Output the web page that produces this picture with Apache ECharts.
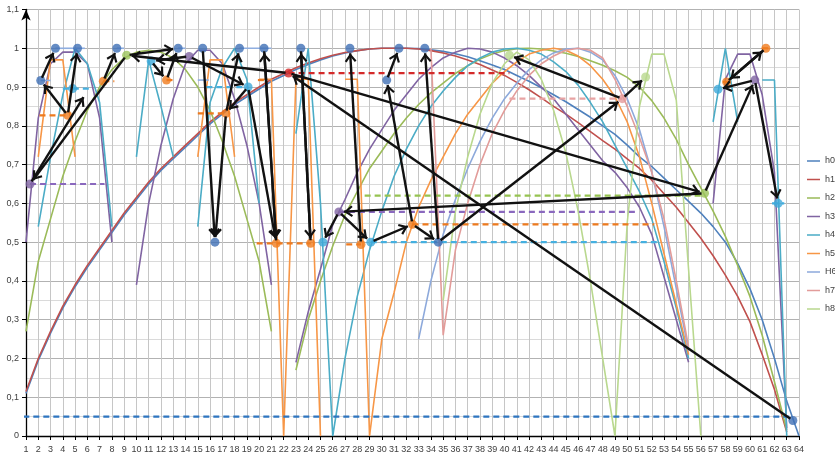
<!DOCTYPE html>
<html>
<head>
<meta charset="utf-8">
<script src="https://cdn.jsdelivr.net/npm/echarts@6/dist/echarts.min.js"></script>
<style>
html,body{margin:0;padding:0;background:#fff;}
#chart{width:835px;height:460px;}
</style>
</head>
<body>
<div id="chart"></div>
<script>
// ---- axis tick labels ----
const xLabels = ['1','2','3','4','5','6','7','8','9','10','11','12','13','14','15','16','17','18','19','20',
  '21','22','23','24','25','26','27','28','29','30','31','32','33','34','35','36','37','38','39','40',
  '41','42','43','44','45','46','47','48','49','50','51','52','53','54','55','56','57','58','59','60',
  '61','62','63','64'];
const yLabels = ['0','0,1','0,2','0,3','0,4','0,5','0,6','0,7','0,8','0,9','1','1,1'];
const seriesNames = ['h0','h1','h2','h3','h4','h5','H6','h7','h8'];

// ---- curve values (each part starts at the given position) ----
const h0 = [.11,.195,.265,.33,.385,.435,.48,.525,.57,.61,.65,.685,.715,.745,.775,.805,.83,.855,.875,.895,
  .915,.93,.945,.958,.97,.98,.988,.994,.998,1,1,1,.999,.996,.992,.986,.978,.968,.957,
  .945,.93,.915,.898,.88,.862,.842,.822,.8,.778,.75,
  .72,.695,.665,.635,.605,.575,.54,.5,.445,.38,.3,.2,.09,0];
const h1 = [.115,.2,.27,.335,.39,.44,.485,.53,.575,.615,.655,.69,.72,.75,.78,.81,.835,.86,.88,.9,
  .92,.935,.95,.962,.973,.982,.989,.994,.998,1,1,1,.998,.994,.988,.98,.97,.958,.944,
  .93,.912,.893,.872,.85,.83,.808,.785,.762,.74,.715,
  .69,.66,.625,.59,.55,.51,.465,.415,.36,.295,.21,.12,.01];
const h2a = [.27,.45,.56,.67,.76,.84,.9,.945,.975,.99,.995,.99,.975,.945,.9,.84,.76,.67,.56,.45,.27];
const h2b = [.17,.3,.4,.49,.57,.63,.69,.735,.78,.82,.855,.885,.91,.935,.955,.972,.985,.994,.999,1,
  .998,.993,.987,.979,.968,.956,.942,.925,.9,.865,.82,.765,.7,.64,.58,.515,.44,.36,.26,.14,.015];
const h3a = [.5,.82,.96,.99,.99,.96,.82,.5];
const h3b = [.39,.6,.75,.87,.96,.995,.995,.96,.87,.75,.6,.39];
const h3c = [.19,.32,.43,.545,.61,.68,.74,.79,.84,.88,.92,.95,.975,.99,1,.998,.99,.975,.955,.93,
  .9,.87,.83,.79,.75,.71,.68,.64,.59,.52,.41,.3,.19];
const h3d = [.6,.92,.985,.985,.88,.68,.02];
const h4a = [.54,.72,.88,1,.96,.86,.54];
const h4b = [.72,.97,.85,.72];
const h4c = [.54,.86,.95,1,.92,.6];
const h4d = [.78,1,.6,0,.2,.36,.48,.58,.67,.74,.8,.85,.89,.925,.955,.975,.99,.998,1,.995,
  .985,.965,.94,.905,.86,.81,.75,.69,.63,.56,.45,.33,.2];
const h4e = [.81,1,.81];
const h4f = [.918,.918,0];
const h5a = [.72,.97,.97,.72];
const h5b = [.72,.97,.97,.72];
const h5c = [.92,.92,0,.92,.92,0];
const h5d = [.92,.92,0,.25,.37,.5,.59,.66,.72,.78,.83,.87,.91,.94,.965,.985,.995,1,.995,.98,
  .955,.92,.875,.81,.72,.6,.47,.34,.21];
const h6a = [.25,.4,.52,.61,.69,.76,.82,.87,.91,.945,.97,.988,.998,1,.99,.97,.93,.87,.79,.68,.54,.38,.22];
const h7a = [1,.26,.48,.6,.7,.78,.84,.89,.93,.96,.98,.995,1,.995,.975,.92,.85,.77,.68,.56,.4,.23];
const h8a = [.35,.58,.72,.83,.91,.96,.99,.97,.92,.84,.73,.58,.4,.2,0,.55,.85,.985,.985,.866,.43,0];

const curveParts = {
  h0: [[1, h0]],
  h1: [[1, h1]],
  h2: [[1, h2a], [23, h2b]],
  h3: [[1, h3a], [10, h3b], [23, h3c], [57, h3d]],
  h4: [[2, h4a], [10, h4b], [15, h4c], [23, h4d], [57, h4e], [61, h4f]],
  h5: [[2, h5a], [15, h5b], [20, h5c], [27, h5d]],
  H6: [[33, h6a]],
  h7: [[34, h7a]],
  h8: [[35, h8a]]
};

// ---- visited points ----
const ptsBlue = [[2.2,.917],[3.4,1],[5.2,1],[8.4,1],[13.4,1],[15.4,1],[16.4,.5],[18.4,1],[20.4,1],
  [23.4,1],[27.4,1],[30.4,.918],[31.4,1],[33.5,1],[34.6,.5],[63.5,.04]];
const ptsRed = [[22.4,.936]];
const ptsGreen = [[9.2,.982],[56.3,.626]];
const ptsPurple = [[1.33,.65],[14.3,.979],[26.5,.578],[60.4,.918]];
const ptsTeal = [[4.8,.896],[11.2,.967],[19.1,.9],[25.2,.5],[29.1,.5],[57.4,.894],[62.3,.6]];
const ptsOrange = [[4.4,.827],[7.3,.915],[12.45,.918],[17.3,.832],[21.4,.497],[24.2,.497],[28.3,.494],
  [32.5,.546],[58.1,.913],[61.3,1]];
const ptsPink = [[49.6,.87]];
const ptsLightGreen = [[40.4,.982],[51.5,.926]];

// ---- level lines [from, to, value] ----
const lvBlue = [[-0.85,63.4,.05]];
const lvPurple = [[1.33,7.4,.65],[26.5,50.7,.578]];
const lvOrange = [[2.1,4.4,.827],[7.3,8.2,.915],[12.45,13.1,.918],[15.0,17.3,.832],[19.9,20.6,.918],
  [19.8,24.2,.497],[27.1,28.3,.494],[32.5,52.2,.546],[57.8,58.6,.913],[61.0,61.8,1]];
const lvTeal = [[4.0,6.4,.896],[15.7,19.1,.9],[29.1,52.6,.5],[61.8,62.8,.6]];
const lvRed = [[22.4,40.4,.936]];
const lvGreen = [[28.6,56.0,.62]];
const lvPink = [[40.4,49.6,.87]];
const lvPale = [[2.2,3.0,.917],[3.4,5.8,1],[8.4,9.0,1],[13.4,14.0,1],[15.0,15.9,.918],[18.4,21.0,1]];

// ---- moves between points [from, to] ----
const moves = [
  [[9.2,.982],[1.33,.65]], [[1.33,.65],[5.9,.885]], [[4.4,.827],[2.2,.917]], [[2.2,.917],[3.4,1]],
  [[4.4,.827],[5.2,1]], [[7.3,.915],[8.4,1]], [[22.4,.936],[9.2,.982]], [[9.2,.982],[13.4,1]],
  [[14.3,.979],[11.2,.967]], [[11.2,.967],[12.45,.918]], [[12.45,.918],[13.4,1]], [[14.3,.979],[19.1,.9]],
  [[19.1,.9],[17.3,.832]], [[17.3,.832],[18.4,1]], [[15.4,1],[16.4,.5]], [[17.3,.832],[16.4,.5]],
  [[19.1,.9],[21.4,.497]], [[20.4,1],[21.4,.497]], [[21.4,.497],[20.4,1]], [[23.4,1],[24.2,.497]],
  [[24.2,.497],[23.4,1]], [[28.3,.494],[27.4,1]], [[26.5,.578],[25.2,.5]], [[26.5,.578],[29.1,.5]],
  [[56.3,.626],[26.5,.578]], [[29.1,.5],[32.5,.546]], [[32.5,.546],[34.6,.5]], [[32.5,.546],[30.4,.918]],
  [[30.4,.918],[31.4,1]], [[34.6,.5],[33.5,1]], [[34.6,.5],[49.6,.87]], [[49.6,.87],[51.5,.926]],
  [[49.6,.87],[40.4,.982]], [[22.4,.936],[56.3,.626]], [[63.5,.04],[22.4,.936]], [[56.3,.626],[60.4,.918]],
  [[60.4,.918],[57.4,.894]], [[58.1,.913],[61.3,1]], [[61.3,1],[58.1,.913]], [[60.4,.918],[62.3,.6]]
];

// ---- styling ----
const curveColors = {h0:'#4F81BD',h1:'#C0504D',h2:'#9BBB59',h3:'#8064A2',h4:'#4BACC6',h5:'#F79646',
  H6:'#8DA9DB',h7:'#E29C9A',h8:'#B9D88E'};
const font = 'Liberation Sans, Arial, sans-serif';
// open arrow head; the tip sits at the centre of the symbol box
const openArrow = 'path://M0,0L0.01,0L0,0.01Z M20,20L19.99,20L20,19.99Z M10,10L16.5,18.5L14.6,20L10,14L5.4,20L3.5,18.5Z';
// thin horizontal stroke used as legend key
const legendKey = 'path://M0,0L0.01,0L0,0.01Z M13,10L12.99,10L13,9.99Z M0,4.2H13V5.8H0Z';

function partsToData(parts) {
  const out = [];
  parts.forEach(([start, vals], k) => {
    if (k) out.push([start - 0.5, '-']);
    vals.forEach((v, i) => out.push([start + i, v]));
  });
  return out;
}

const chart = echarts.init(document.getElementById('chart'), null, {renderer: 'canvas'});

const series = [];
seriesNames.forEach(n => {
  series.push({
    name: n, type: 'line', data: partsToData(curveParts[n]), symbol: 'none', connectNulls: false,
    lineStyle: {width: 1.6, color: curveColors[n]}, itemStyle: {color: curveColors[n]}, z: 2, silent: true
  });
});

function levelSeries(list, color, dashed, width) {
  list.forEach(([a, b, v]) => {
    series.push({
      type: 'line', data: [[a, v], [b, v]], symbol: 'none', silent: true, clip: false, z: 3,
      lineStyle: {color: color, width: width, type: dashed ? [6, 4] : 'solid'}
    });
  });
}
levelSeries(lvBlue, '#2E75C0', true, 2.4);
levelSeries(lvPurple, '#8A68BE', true, 2.2);
levelSeries(lvOrange, '#EE7A1E', true, 2.2);
levelSeries(lvTeal, '#45B0E0', true, 2.2);
levelSeries(lvRed, '#D42A2A', true, 2.2);
levelSeries(lvGreen, '#96C350', true, 2.2);
levelSeries(lvPink, '#E8A3A3', true, 2.2);
levelSeries(lvPale, '#8FAEE0', false, 1.6);

function dots(list, color) {
  series.push({type: 'scatter', data: list, symbol: 'circle', symbolSize: 9, silent: true, z: 5,
    itemStyle: {color: color}});
}
dots(ptsBlue, '#3F6FB5');
dots(ptsRed, '#D42A2A');
dots(ptsGreen, '#9BC35A');
dots(ptsPurple, '#8064A2');
dots(ptsTeal, '#3DA9DA');
dots(ptsOrange, '#F07C1E');
dots(ptsPink, '#E59A9A');
dots(ptsLightGreen, '#B9D88E');

const option = {
  animation: false,
  backgroundColor: '#ffffff',
  textStyle: {fontFamily: font},
  grid: {left: 26, right: 36, top: 9.5, bottom: 24, containLabel: false},
  legend: {
    data: seriesNames.map(n => ({name: n, icon: legendKey})),
    orient: 'vertical', left: 807, top: 156, itemWidth: 13, itemHeight: 10, itemGap: 8.5,
    padding: 0,
    textStyle: {fontSize: 9, color: '#404040', fontFamily: font}, selectedMode: false
  },
  xAxis: {
    type: 'value', min: 1, max: 64, interval: 1,
    axisLine: {show: true, onZero: false, lineStyle: {color: '#000', width: 1.3}},
    axisTick: {show: true, length: 4, lineStyle: {color: '#000'}},
    axisLabel: {fontSize: 9, color: '#404040', margin: 9, formatter: v => xLabels[Math.round(v) - 1]},
    splitLine: {show: true, lineStyle: {color: '#c6c6c6', width: 1}}
  },
  yAxis: {
    type: 'value', min: 0, max: 1.1, interval: 0.1,
    axisLine: {show: true, onZero: false, lineStyle: {color: '#000', width: 1.3},
      symbol: ['none', 'arrow'], symbolSize: [7, 11]},
    axisTick: {show: true, length: 4, lineStyle: {color: '#000'}},
    axisLabel: {fontSize: 9, color: '#404040', margin: 7, formatter: v => yLabels[Math.round(v * 10)]},
    splitLine: {show: true, lineStyle: {color: '#b2b2b2', width: 1}},
    minorTick: {show: false, splitNumber: 2},
    minorSplitLine: {show: true, lineStyle: {color: '#dadada', width: 1}}
  },
  series: series
};
chart.setOption(option);

// arrows: trimmed so the head touches the edge of the target dot
const arrowData = moves.map(([a, b]) => {
  const pa = chart.convertToPixel({gridIndex: 0}, a);
  const pb = chart.convertToPixel({gridIndex: 0}, b);
  const dx = pb[0] - pa[0], dy = pb[1] - pa[1];
  const len = Math.hypot(dx, dy) || 1;
  const ux = dx / len, uy = dy / len;
  const s = [pa[0] + ux * 3, pa[1] + uy * 3];
  const e = [pb[0] - ux * 5, pb[1] - uy * 5];
  return {coords: [chart.convertFromPixel({gridIndex: 0}, s), chart.convertFromPixel({gridIndex: 0}, e)]};
});
series.push({
  type: 'lines', coordinateSystem: 'cartesian2d', data: arrowData, silent: true, z: 6,
  symbol: ['none', openArrow], symbolSize: 18,
  lineStyle: {color: '#111111', width: 2.4, opacity: 1, curveness: 0}
});
chart.setOption({series: series});
</script>
</body>
</html>
